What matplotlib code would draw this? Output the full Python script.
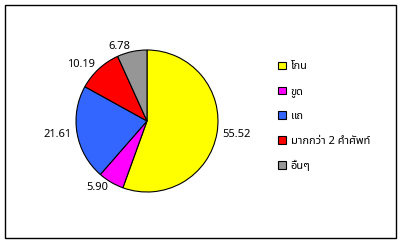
import matplotlib.pyplot as plt
from matplotlib.patches import Rectangle

plt.rcParams['font.family'] = ['Noto Sans Thai', 'Loma', 'Garuda', 'Tlwg Typo', 'Norasi', 'DejaVu Sans']

labels = ['โกน', 'ขูด', 'แถ', 'มากกว่า 2 คำศัพท์', 'อื่นๆ']
values = [55.52, 5.90, 21.61, 10.19, 6.78]
colors = ['#ffff00', '#ff00ff', '#3366ff', '#ff0000', '#969696']

fig = plt.figure(figsize=(4.01, 2.43), dpi=100)
fig.patch.set_facecolor('white')
fig.patches.append(Rectangle((5/401, 5/243), 391/401, 233/243, transform=fig.transFigure,
                             fill=False, edgecolor='black', linewidth=1))

ax = fig.add_axes([76/401, 51/243, 142/401, 142/243])
wedges, texts = ax.pie(values, colors=colors, startangle=90, counterclock=False,
                       labels=['%.2f' % v for v in values], labeldistance=1.08,
                       wedgeprops=dict(edgecolor='black', linewidth=0.8),
                       textprops=dict(fontsize=8, color='black'))
ax.set_xlim(-1, 1)
ax.set_ylim(-1, 1)
ax.set_aspect('equal')

fig.legend(wedges, labels, loc='upper left', bbox_to_anchor=(274/401, 1 - 57/243),
           frameon=False, fontsize=8, handlelength=0.7, handleheight=0.7,
           handletextpad=0.4, labelspacing=1.25, borderaxespad=0)

fig.savefig('out.png', dpi=100)
